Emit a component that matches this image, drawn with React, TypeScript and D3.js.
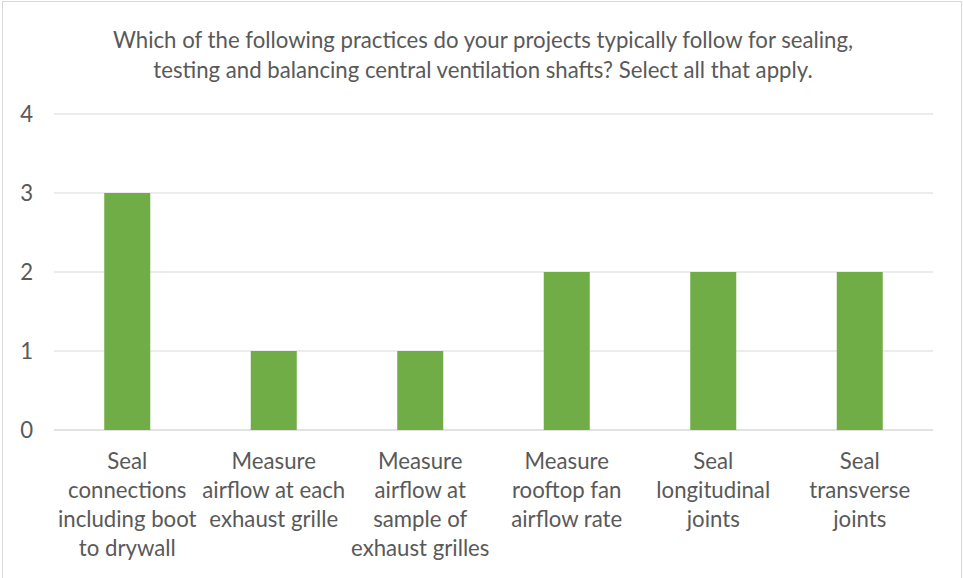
import React from "react";
import * as d3 from "d3";

const categories = [
  "Seal connections including boot to drywall",
  "Measure airflow at each exhaust grille",
  "Measure airflow at sample of exhaust grilles",
  "Measure rooftop fan airflow rate",
  "Seal longitudinal joints",
  "Seal transverse joints",
];
const categoryLines = [
  ["Seal", "connections", "including boot", "to drywall"],
  ["Measure", "airflow at each", "exhaust grille"],
  ["Measure", "airflow at", "sample of", "exhaust grilles"],
  ["Measure", "rooftop fan", "airflow rate"],
  ["Seal", "longitudinal", "joints"],
  ["Seal", "transverse", "joints"],
];
const values = [3, 1, 1, 2, 2, 2];
const yTicks = [0, 1, 2, 3, 4];
const titleLines = [
  "Which of the following practices do your projects typically follow for sealing,",
  "testing and balancing central ventilation shafts? Select all that apply.",
];

const W = 963;
const H = 578;
const FONT = "Lato, 'Noto Sans', sans-serif";
const TEXT = "#595959";
const FS = 22.2;

export default function App() {
  const x = d3
    .scaleBand<string>()
    .domain(categories)
    .range([54, 933])
    .paddingInner(0.686)
    .paddingOuter(0.343);
  const y = d3.scaleLinear().domain([0, 4]).range([430, 114]);

  return (
    <svg
      width={W}
      height={H}
      style={{ position: "absolute", left: 0, top: 0, background: "#fff" }}
    >
      <rect x={2.5} y={1.5} width={959} height={H + 10} fill="#fff" stroke="#d9d9d9" />
      <g fontFamily={FONT} fill={TEXT} fontSize={FS} textAnchor="middle">
        {titleLines.map((t, i) => (
          <text key={i} x={483} y={48 + i * 30}>
            {t}
          </text>
        ))}
      </g>
      <g>
        {yTicks.map((t) => (
          <g key={t}>
            <line x1={54} x2={933} y1={y(t)} y2={y(t)} stroke="#d9d9d9" strokeWidth={t === 0 ? 1.5 : 1} />
            <text
              x={33}
              y={y(t)}
              dy="0.35em"
              textAnchor="end"
              fontFamily={FONT}
              fontSize={FS}
              fill={TEXT}
            >
              {t}
            </text>
          </g>
        ))}
      </g>
      <g>
        {categories.map((c, i) => (
          <rect
            key={c}
            x={x(c)}
            y={y(values[i])}
            width={x.bandwidth()}
            height={y(0) - y(values[i])}
            fill="#70ad47"
          />
        ))}
      </g>
      <g fontFamily={FONT} fontSize={FS} fill={TEXT} textAnchor="middle">
        {categories.map((c, i) => (
          <text key={c} x={(x(c) as number) + x.bandwidth() / 2} y={469}>
            {categoryLines[i].map((l, j) => (
              <tspan key={j} x={(x(c) as number) + x.bandwidth() / 2} y={469 + j * 29}>
                {l}
              </tspan>
            ))}
          </text>
        ))}
      </g>
    </svg>
  );
}
